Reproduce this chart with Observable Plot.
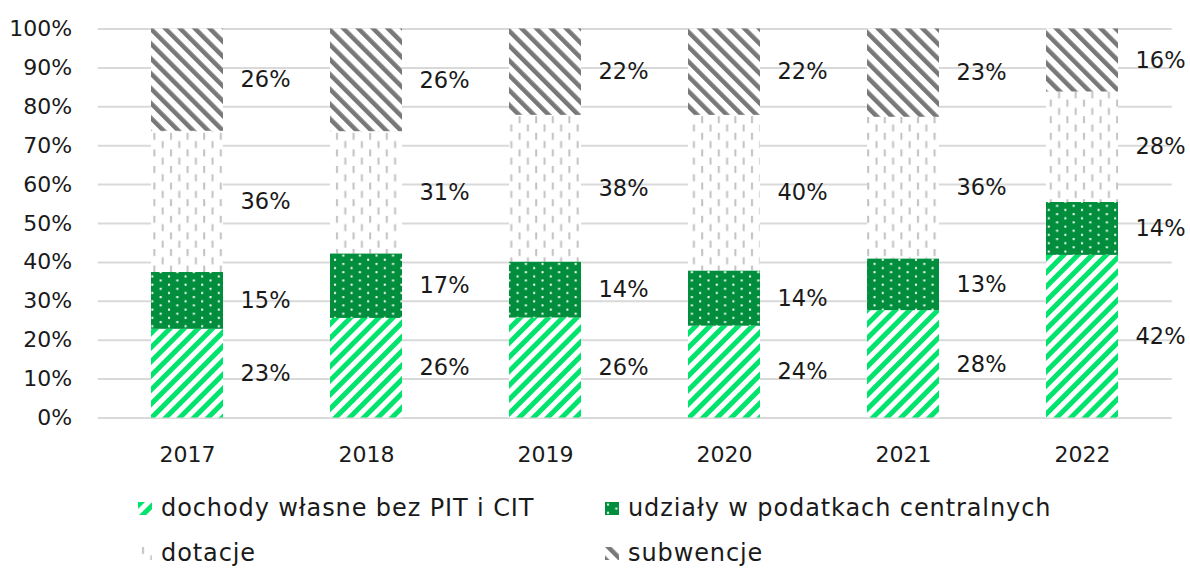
<!DOCTYPE html>
<html>
<head>
<meta charset="utf-8">
<script src="https://cdn.jsdelivr.net/npm/d3@7"></script>
<script src="https://cdn.jsdelivr.net/npm/@observablehq/plot@0.6"></script>
<style>
  body { margin: 0; background: #fff; width: 1190px; height: 569px; position: relative; overflow: hidden; }
  #chart { position: absolute; left: 0; top: 0; }
  .leg { position: absolute; display: flex; align-items: center; font-family: "DejaVu Sans", sans-serif; font-size: 24px; letter-spacing: 0.9px; color: #1a1a1a; line-height: 30px; white-space: nowrap; }
  .leg svg { margin-right: 9px; flex: none; }
</style>
</head>
<body>
<svg width="0" height="0" style="position:absolute">
  <defs>
    <pattern id="pDoch" patternUnits="userSpaceOnUse" width="10" height="10" patternTransform="rotate(45)">
      <rect width="10" height="10" fill="#ffffff"/>
      <rect width="5" height="10" fill="#00E36C"/>
    </pattern>
    <pattern id="pUdz" patternUnits="userSpaceOnUse" width="16.6" height="8.3">
      <rect width="16.6" height="8.3" fill="#008D3C"/>
      <rect x="2" y="1.5" width="2" height="2" fill="#ffffff"/>
      <rect x="10.3" y="5.6" width="2" height="2" fill="#ffffff"/>
    </pattern>
    <pattern id="pDot" patternUnits="userSpaceOnUse" width="16.6" height="16.6">
      <rect width="16.6" height="16.6" fill="#ffffff"/>
      <rect x="4" y="0" width="2" height="7" fill="#c2c2c2"/>
      <rect x="12.3" y="8.3" width="2" height="7" fill="#c2c2c2"/>
    </pattern>
    <pattern id="pSub" patternUnits="userSpaceOnUse" width="10.5" height="10.5" patternTransform="rotate(-45)">
      <rect width="10.5" height="10.5" fill="#ffffff"/>
      <rect width="4.5" height="10.5" fill="#787878"/>
    </pattern>
  </defs>
</svg>
<div id="chart"></div>
<script>
// ---- data (percent of total revenue) ----
const years = ["2017", "2018", "2019", "2020", "2021", "2022"];
const seriesNames = [
  "dochody własne bez PIT i CIT",
  "udziały w podatkach centralnych",
  "dotacje",
  "subwencje"
];
const dochody = [22.8, 25.6, 25.7, 23.6, 27.6, 41.8];
const udzialy = [14.6, 16.6, 14.4, 14.2, 13.3, 13.6];
const dotacje = [36.3, 31.4, 37.7, 40.0, 36.4, 28.4];
const subwencje = [26.3, 26.4, 22.2, 22.2, 22.7, 16.2];
const yTicks = [0, 10, 20, 30, 40, 50, 60, 70, 80, 90, 100];

const patternFills = ["url(#pDoch)", "url(#pUdz)", "url(#pDot)", "url(#pSub)"];

const seriesValues = [dochody, udzialy, dotacje, subwencje];
const rows = [];
years.forEach((year, i) => {
  seriesNames.forEach((s, k) => {
    rows.push({year, series: s, value: seriesValues[k][i]});
  });
});

const font = "DejaVu Sans, sans-serif";

const chart = Plot.plot({
  width: 1190,
  height: 480,
  marginLeft: 97.7,
  marginRight: 18.3,
  marginTop: 28.5,
  marginBottom: 62.5,
  style: {fontFamily: font, fontSize: "22px", color: "#1a1a1a", background: "#fff", overflow: "visible"},
  x: {domain: years, paddingInner: 0.6, paddingOuter: 0.3, axis: null},
  y: {domain: [0, 100], axis: null},
  color: {domain: seriesNames, range: patternFills},
  marks: [
    Plot.ruleY(yTicks, {stroke: "#d9d9d9", strokeWidth: 2}),
    Plot.barY(rows, {x: "year", y: "value", fill: "series", order: seriesNames}),
    Plot.text(rows, Plot.stackY({
      x: "year", y: "value", z: "series", order: seriesNames,
      text: d => Math.round(d.value) + "%",
      dx: 78, fontSize: 22.5, fill: "#1a1a1a", textAnchor: "middle"
    })),
    Plot.axisY(yTicks, {tickSize: 0, tickPadding: 26, tickFormat: d => d + "%", fontSize: 22, fill: "#1a1a1a", label: null}),
    Plot.axisX({tickSize: 0, tickPadding: 28, fontSize: 22, fill: "#1a1a1a", label: null})
  ]
});
document.getElementById("chart").appendChild(chart);

// ---- legend (HTML, below the SVG) ----
const legendPos = [
  {left: 138, top: 493},
  {left: 605, top: 493},
  {left: 138, top: 538},
  {left: 605, top: 538}
];
seriesNames.forEach((s, k) => {
  const item = document.createElement("div");
  item.className = "leg";
  item.style.left = legendPos[k].left + "px";
  item.style.top = legendPos[k].top + "px";
  item.innerHTML = `<svg width="14" height="13"><rect width="14" height="13" fill="${patternFills[k]}"/></svg><span>${s}</span>`;
  document.body.appendChild(item);
});
</script>
</body>
</html>
